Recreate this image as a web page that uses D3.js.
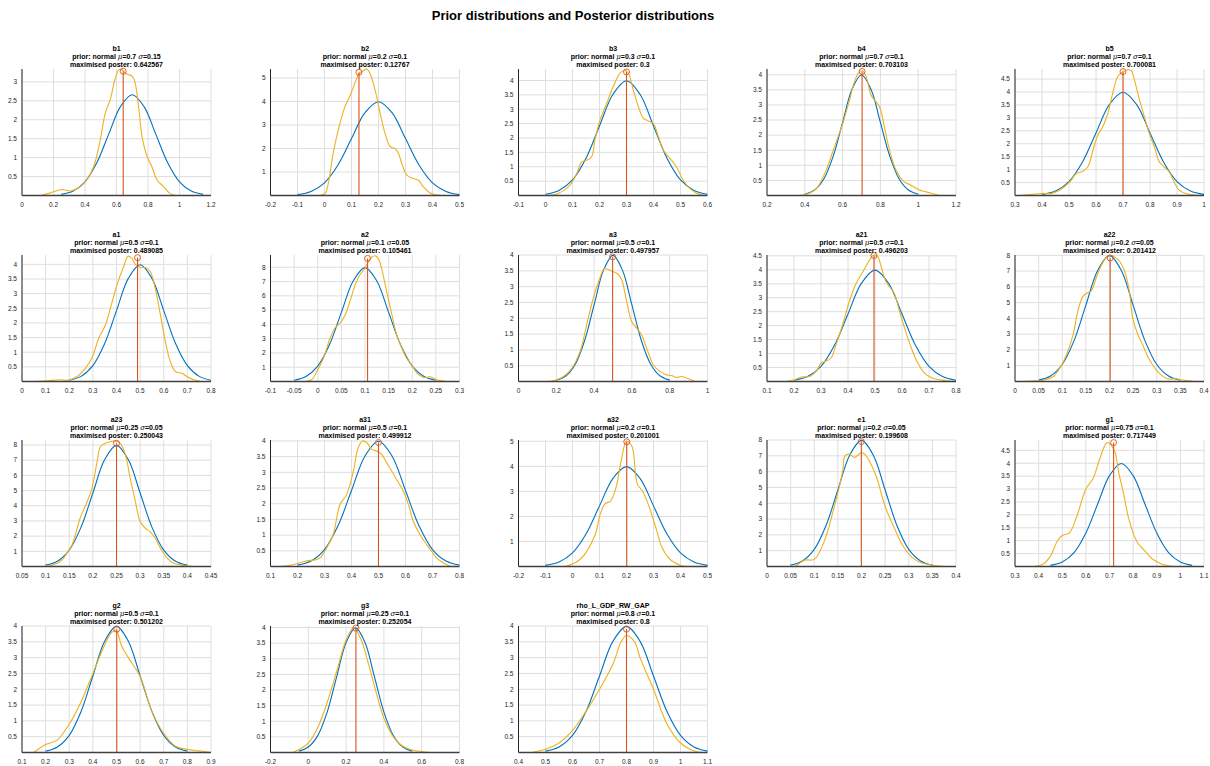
<!DOCTYPE html>
<html>
<head>
<meta charset="utf-8">
<script src="https://cdn.jsdelivr.net/npm/d3@7"></script>
<style>
  body { margin: 0; background: #fff; }
  text { font-family: "Liberation Sans", Arial, sans-serif; }
</style>
</head>
<body>
<div id="chart"></div>
<script>
// ---- data ----
const names = ['b1','b2','b3','b4','b5','a1','a2','a3','a21','a22','a23','a31','a32','e1','g1','g2','g3','rho_L_GDP_RW_GAP'];
const priorMu = [0.7,0.2,0.3,0.7,0.7,0.5,0.1,0.5,0.5,0.2,0.25,0.5,0.2,0.2,0.75,0.5,0.25,0.8];
const priorSd = [0.15,0.1,0.1,0.1,0.1,0.1,0.05,0.1,0.1,0.05,0.05,0.1,0.1,0.05,0.1,0.1,0.1,0.1];
const modeLabels = ['0.642567','0.12767','0.3','0.703103','0.700081','0.489085','0.105461','0.497957','0.496203','0.201412','0.250043','0.499912','0.201001','0.199608','0.717449','0.501202','0.252054','0.8'];
const modeY = [3.28,5.24,4.30,4.11,4.79,4.23,8.62,3.94,4.51,7.83,8.11,3.95,4.98,7.90,4.80,3.90,3.98,3.90];
const xDomains = [[0,1.2],[-0.2,0.5],[-0.1,0.6],[0.2,1.2],[0.3,1.0],[0,0.8],[-0.1,0.3],[0,1],[0.1,0.8],[0,0.4],[0.05,0.45],[0.1,0.8],[-0.2,0.5],[0,0.4],[0.3,1.1],[0.1,0.9],[-0.2,0.8],[0.4,1.1]];
const xSteps = [0.2,0.1,0.1,0.2,0.1,0.1,0.05,0.2,0.1,0.05,0.05,0.1,0.1,0.05,0.1,0.1,0.2,0.1];
const yTops = [3.34,5.38,4.40,4.19,4.89,4.32,8.86,4.00,4.53,8.02,8.33,4.03,5.05,8.00,4.90,4.00,4.05,4.00];
const ySteps = [0.5,1,0.5,0.5,0.5,0.5,1,0.5,0.5,1,1,0.5,1,1,0.5,0.5,0.5,0.5];

// prior densities sampled at mu + k*sd/2, k = -6..6
const priorDens = [
  [0.030,0.117,0.360,0.864,1.613,2.347,2.660,2.347,1.613,0.864,0.360,0.117,0.030],
  [0.044,0.175,0.540,1.295,2.420,3.521,3.989,3.521,2.420,1.295,0.540,0.175,0.044],
  [0.044,0.175,0.540,1.295,2.420,3.521,3.989,3.521,2.420,1.295,0.540,0.175,0.044],
  [0.044,0.175,0.540,1.295,2.420,3.521,3.989,3.521,2.420,1.295,0.540,0.175,0.044],
  [0.044,0.175,0.540,1.295,2.420,3.521,3.989,3.521,2.420,1.295,0.540,0.175,0.044],
  [0.044,0.175,0.540,1.295,2.420,3.521,3.989,3.521,2.420,1.295,0.540,0.175,0.044],
  [0.089,0.350,1.080,2.591,4.839,7.041,7.979,7.041,4.839,2.591,1.080,0.350,0.089],
  [0.044,0.175,0.540,1.295,2.420,3.521,3.989,3.521,2.420,1.295,0.540,0.175,0.044],
  [0.044,0.175,0.540,1.295,2.420,3.521,3.989,3.521,2.420,1.295,0.540,0.175,0.044],
  [0.089,0.350,1.080,2.591,4.839,7.041,7.979,7.041,4.839,2.591,1.080,0.350,0.089],
  [0.089,0.350,1.080,2.591,4.839,7.041,7.979,7.041,4.839,2.591,1.080,0.350,0.089],
  [0.044,0.175,0.540,1.295,2.420,3.521,3.989,3.521,2.420,1.295,0.540,0.175,0.044],
  [0.044,0.175,0.540,1.295,2.420,3.521,3.989,3.521,2.420,1.295,0.540,0.175,0.044],
  [0.089,0.350,1.080,2.591,4.839,7.041,7.979,7.041,4.839,2.591,1.080,0.350,0.089],
  [0.044,0.175,0.540,1.295,2.420,3.521,3.989,3.521,2.420,1.295,0.540,0.175,0.044],
  [0.044,0.175,0.540,1.295,2.420,3.521,3.989,3.521,2.420,1.295,0.540,0.175,0.044],
  [0.044,0.175,0.540,1.295,2.420,3.521,3.989,3.521,2.420,1.295,0.540,0.175,0.044],
  [0.044,0.175,0.540,1.295,2.420,3.521,3.989,3.521,2.420,1.295,0.540,0.175,0.044]
];

// posterior kernel densities [x, y]
const postCurves = [
  [[0.12,0],[0.18,0.07],[0.254,0.16],[0.307,0.12],[0.37,0.23],[0.41,0.41],[0.455,0.76],[0.497,1.47],[0.529,2.18],[0.56,2.53],[0.59,3.06],[0.614,3.31],[0.63,3.33],[0.667,3.2],[0.694,3.17],[0.713,3.06],[0.74,2.35],[0.762,1.56],[0.794,1.03],[0.825,0.76],[0.857,0.41],[0.9,0.23],[0.94,0.05],[0.98,0]],
  [[-0.021,0],[0.002,0.09],[0.014,0.51],[0.032,1.79],[0.051,2.79],[0.076,3.79],[0.094,4.22],[0.113,4.79],[0.128,5.17],[0.144,5.31],[0.156,5.38],[0.168,5.21],[0.187,4.5],[0.206,3.5],[0.224,2.65],[0.243,2.08],[0.261,2.0],[0.274,1.79],[0.286,1.37],[0.305,0.87],[0.329,0.72],[0.348,0.65],[0.366,0.37],[0.391,0.11],[0.428,0.01],[0.44,0]],
  [[0.005,0],[0.042,0.05],[0.085,0.3],[0.116,0.77],[0.134,1.17],[0.153,1.23],[0.171,1.35],[0.183,1.93],[0.202,2.63],[0.227,3.21],[0.251,3.79],[0.276,4.26],[0.294,4.35],[0.307,4.26],[0.325,3.67],[0.344,3.09],[0.362,2.69],[0.381,2.59],[0.399,2.51],[0.418,2.05],[0.436,1.58],[0.461,1.29],[0.485,1.0],[0.51,0.53],[0.535,0.24],[0.572,0.03],[0.59,0]],
  [[0.364,0],[0.408,0.04],[0.461,0.23],[0.513,0.84],[0.557,1.62],[0.601,2.39],[0.637,3.17],[0.663,3.78],[0.686,4.08],[0.704,4.13],[0.725,3.93],[0.751,3.32],[0.777,3.1],[0.795,2.95],[0.821,2.28],[0.848,1.51],[0.883,0.84],[0.927,0.45],[0.962,0.34],[1.006,0.18],[1.042,0.12],[1.112,0]],
  [[0.318,0],[0.361,0.04],[0.398,0.08],[0.435,0.08],[0.466,0.21],[0.503,0.53],[0.527,0.85],[0.552,0.94],[0.57,1.11],[0.589,1.76],[0.607,2.34],[0.625,2.66],[0.644,3.18],[0.662,3.96],[0.681,4.61],[0.699,4.77],[0.718,4.86],[0.73,4.84],[0.742,4.48],[0.761,3.7],[0.779,3.05],[0.797,2.41],[0.816,1.89],[0.834,1.31],[0.852,1.11],[0.871,0.92],[0.889,0.53],[0.908,0.21],[0.932,0.08],[0.957,0.03],[0.98,0]],
  [[0.049,0],[0.106,0.02],[0.155,0.06],[0.198,0.05],[0.233,0.17],[0.268,0.45],[0.296,0.8],[0.325,1.48],[0.353,1.93],[0.374,2.5],[0.402,3.3],[0.43,3.92],[0.449,4.28],[0.466,4.2],[0.48,4.0],[0.501,3.89],[0.522,3.89],[0.543,3.75],[0.564,3.18],[0.586,2.27],[0.607,1.36],[0.628,0.68],[0.649,0.34],[0.677,0.28],[0.698,0.17],[0.727,0.06],[0.755,0]],
  [[-0.027,0],[-0.013,0.12],[-0.002,0.7],[0.012,1.63],[0.026,3.03],[0.036,3.73],[0.047,4.08],[0.058,4.66],[0.068,5.6],[0.079,6.76],[0.089,7.46],[0.1,7.93],[0.107,8.39],[0.114,8.7],[0.121,8.81],[0.128,8.62],[0.135,7.93],[0.146,6.29],[0.157,4.66],[0.167,3.26],[0.178,2.33],[0.188,1.63],[0.199,1.17],[0.21,0.58],[0.224,0.28],[0.238,0.33],[0.252,0.12],[0.273,0]],
  [[0.15,0],[0.194,0.04],[0.238,0.16],[0.282,0.42],[0.326,0.95],[0.361,1.8],[0.396,2.64],[0.431,3.28],[0.454,3.57],[0.475,3.54],[0.502,3.47],[0.525,3.4],[0.546,3.22],[0.572,2.54],[0.599,1.9],[0.625,1.69],[0.651,1.48],[0.678,1.06],[0.713,0.53],[0.748,0.32],[0.783,0.21],[0.81,0.19],[0.836,0.13],[0.863,0.16],[0.889,0.11],[0.933,0]],
  [[0.171,0],[0.202,0.06],[0.227,0.16],[0.258,0.18],[0.282,0.36],[0.301,0.67],[0.319,0.73],[0.338,0.85],[0.356,1.33],[0.381,2.06],[0.406,2.9],[0.43,3.51],[0.455,3.93],[0.48,4.35],[0.494,4.52],[0.51,4.47],[0.523,4.11],[0.541,3.57],[0.559,3.33],[0.572,3.14],[0.59,2.54],[0.609,1.93],[0.634,1.21],[0.658,0.67],[0.683,0.3],[0.714,0.12],[0.751,0.05],[0.788,0]],
  [[0.018,0],[0.042,0.04],[0.063,0.1],[0.081,0.32],[0.095,0.85],[0.109,1.7],[0.123,2.97],[0.133,4.46],[0.144,5.41],[0.154,5.63],[0.161,5.73],[0.172,6.58],[0.182,7.32],[0.193,7.86],[0.201,8.0],[0.21,7.9],[0.221,7.64],[0.232,7.0],[0.242,5.73],[0.249,4.03],[0.26,2.97],[0.27,2.34],[0.281,1.59],[0.291,1.06],[0.305,0.53],[0.323,0.17],[0.34,0.17],[0.354,0.1],[0.375,0.02],[0.389,0]],
  [[0.096,0],[0.117,0.11],[0.135,0.44],[0.145,0.88],[0.156,1.43],[0.173,3.18],[0.188,4.28],[0.198,5.15],[0.209,6.91],[0.216,7.89],[0.226,8.11],[0.237,8.22],[0.247,8.27],[0.258,8.11],[0.269,7.35],[0.279,5.81],[0.29,4.28],[0.3,2.96],[0.311,2.52],[0.321,2.3],[0.332,1.86],[0.343,1.21],[0.357,0.55],[0.371,0.22],[0.392,0.07],[0.413,0]],
  [[0.104,0],[0.147,0.01],[0.19,0.07],[0.234,0.18],[0.264,0.21],[0.283,0.27],[0.308,0.59],[0.332,1.01],[0.357,1.97],[0.382,2.29],[0.407,3.04],[0.425,3.79],[0.441,4.0],[0.456,3.95],[0.475,3.73],[0.493,3.68],[0.512,3.57],[0.53,3.31],[0.549,3.04],[0.567,2.77],[0.592,2.4],[0.611,1.97],[0.629,1.44],[0.654,1.01],[0.679,0.69],[0.697,0.48],[0.716,0.27],[0.741,0.11],[0.765,0.01],[0.78,0]],
  [[-0.026,0],[0.03,0.3],[0.085,1.3],[0.1,2.0],[0.12,2.5],[0.14,2.6],[0.16,3.1],[0.18,4.2],[0.2,5.0],[0.22,4.8],[0.24,3.3],[0.26,3.0],[0.28,2.5],[0.31,1.5],[0.33,0.8],[0.36,0.3],[0.4,0.05],[0.42,0]],
  [[0.06,0],[0.08,0.4],[0.1,0.45],[0.12,1.5],[0.14,3.5],[0.16,6.0],[0.165,7.0],[0.175,7.1],[0.185,6.9],[0.2,7.2],[0.21,7.0],[0.23,5.8],[0.25,3.8],[0.27,2.4],[0.29,1.2],[0.31,0.5],[0.33,0.2],[0.36,0.05],[0.38,0]],
  [[0.38,0],[0.42,0.1],[0.45,0.4],[0.48,1.0],[0.5,1.2],[0.53,1.3],[0.56,1.9],[0.6,3.0],[0.63,3.4],[0.66,4.2],[0.69,4.8],[0.72,4.5],[0.74,3.6],[0.76,2.8],[0.78,1.9],[0.8,1.3],[0.82,0.9],[0.85,0.6],[0.88,0.3],[0.92,0.1],[0.97,0]],
  [[0.15,0],[0.2,0.25],[0.25,0.4],[0.3,0.9],[0.35,1.6],[0.4,2.5],[0.45,3.4],[0.48,3.8],[0.5,3.85],[0.52,3.4],[0.55,3.0],[0.6,2.4],[0.65,1.3],[0.7,0.6],[0.75,0.2],[0.8,0.1],[0.85,0.05],[0.9,0]],
  [[-0.08,0],[0.0,0.3],[0.05,0.8],[0.1,1.6],[0.15,2.6],[0.2,3.6],[0.24,4.0],[0.28,3.6],[0.32,2.8],[0.36,1.9],[0.4,1.1],[0.45,0.5],[0.5,0.2],[0.55,0.08],[0.65,0]],
  [[0.45,0],[0.5,0.1],[0.55,0.3],[0.6,0.7],[0.65,1.3],[0.7,2.0],[0.75,2.8],[0.78,3.5],[0.8,3.7],[0.83,3.5],[0.85,3.0],[0.9,2.0],[0.95,0.9],[1.0,0.3],[1.05,0.05],[1.08,0]]
];

// ---- layout ----
const W = 1210, H = 766;
const colLeft = [22, 270.5, 518.5, 767, 1015];
const rowTop = [69, 255, 440, 626];
const plotW = 189, plotH = 126.5;

const svg = d3.select('#chart').append('svg')
  .attr('width', W).attr('height', H);

svg.append('text')
  .attr('x', 573).attr('y', 20)
  .attr('text-anchor', 'middle')
  .attr('font-size', 13).attr('font-weight', 'bold')
  .attr('fill', '#000')
  .text('Prior distributions and Posterior distributions');

const fmt = v => String(+v.toFixed(4));

names.forEach((name, i) => {
  const left = colLeft[i % 5], top = rowTop[Math.floor(i / 5)];
  const g = svg.append('g').attr('transform', `translate(${left},${top})`);

  const x = d3.scaleLinear().domain(xDomains[i]).range([0, plotW]);
  const y = d3.scaleLinear().domain([0, yTops[i]]).range([plotH, 0]);

  const xt = d3.range(xDomains[i][0], xDomains[i][1] + xSteps[i] / 2, xSteps[i]).map(v => +v.toFixed(4));
  const yt = d3.range(ySteps[i], yTops[i] + 1e-6, ySteps[i]).map(v => +v.toFixed(4));

  // grid
  g.append('g').selectAll('line').data(xt).join('line')
    .attr('x1', d => x(d)).attr('x2', d => x(d))
    .attr('y1', 0).attr('y2', plotH)
    .attr('stroke', '#dedede').attr('stroke-width', 1);
  g.append('g').selectAll('line').data(yt).join('line')
    .attr('x1', 0).attr('x2', plotW)
    .attr('y1', d => y(d)).attr('y2', d => y(d))
    .attr('stroke', '#dedede').attr('stroke-width', 1);

  // prior (blue)
  const k = d3.range(-6, 7);
  const priorPts = k.map((kk, j) => [priorMu[i] + kk * priorSd[i] / 2, priorDens[i][j]]);
  const line = d3.line().x(d => x(d[0])).y(d => y(d[1])).curve(d3.curveCatmullRom.alpha(0.5));
  g.append('path').datum(priorPts)
    .attr('d', line).attr('fill', 'none')
    .attr('stroke', '#0072BD').attr('stroke-width', 1.1);

  // posterior (orange)
  g.append('path').datum(postCurves[i])
    .attr('d', line).attr('fill', 'none')
    .attr('stroke', '#EDB120').attr('stroke-width', 1.1);

  // mode marker
  const mx = +modeLabels[i];
  g.append('line')
    .attr('x1', x(mx)).attr('x2', x(mx))
    .attr('y1', y(0)).attr('y2', y(modeY[i]))
    .attr('stroke', '#D95319').attr('stroke-width', 1.1);
  g.append('circle')
    .attr('cx', x(mx)).attr('cy', y(modeY[i])).attr('r', 3)
    .attr('fill', 'none').attr('stroke', '#D95319').attr('stroke-width', 0.9);

  // axes lines
  g.append('line').attr('x1', 0).attr('x2', 0).attr('y1', 0).attr('y2', plotH)
    .attr('stroke', '#262626').attr('stroke-width', 1);
  g.append('line').attr('x1', 0).attr('x2', plotW).attr('y1', plotH).attr('y2', plotH)
    .attr('stroke', '#404040').attr('stroke-width', 1.6);

  // tick labels
  g.append('g').selectAll('text').data(xt).join('text')
    .attr('x', d => x(d)).attr('y', plotH + 11)
    .attr('text-anchor', 'middle').attr('font-size', 6.5).attr('fill', '#262626')
    .text(fmt);
  g.append('g').selectAll('text').data(yt).join('text')
    .attr('x', -5).attr('y', d => y(d) + 2.3)
    .attr('text-anchor', 'end').attr('font-size', 6.5).attr('fill', '#262626')
    .text(fmt);

  // title
  const t = g.append('g').attr('font-size', 7).attr('font-weight', 'bold')
    .attr('fill', '#000').attr('text-anchor', 'middle');
  t.append('text').attr('x', plotW / 2).attr('y', -18).text(name);
  const p = t.append('text').attr('x', plotW / 2).attr('y', -10);
  p.append('tspan').text('prior: normal ');
  p.append('tspan').attr('font-style', 'italic').attr('font-weight', 'normal').attr('font-family', 'DejaVu Serif').text('μ');
  p.append('tspan').text('=' + priorMu[i] + ' ');
  p.append('tspan').attr('font-style', 'italic').attr('font-weight', 'normal').attr('font-family', 'DejaVu Serif').text('σ');
  p.append('tspan').text('=' + priorSd[i]);
  t.append('text').attr('x', plotW / 2).attr('y', -2).text('maximised poster: ' + modeLabels[i]);
});
</script>
</body>
</html>
